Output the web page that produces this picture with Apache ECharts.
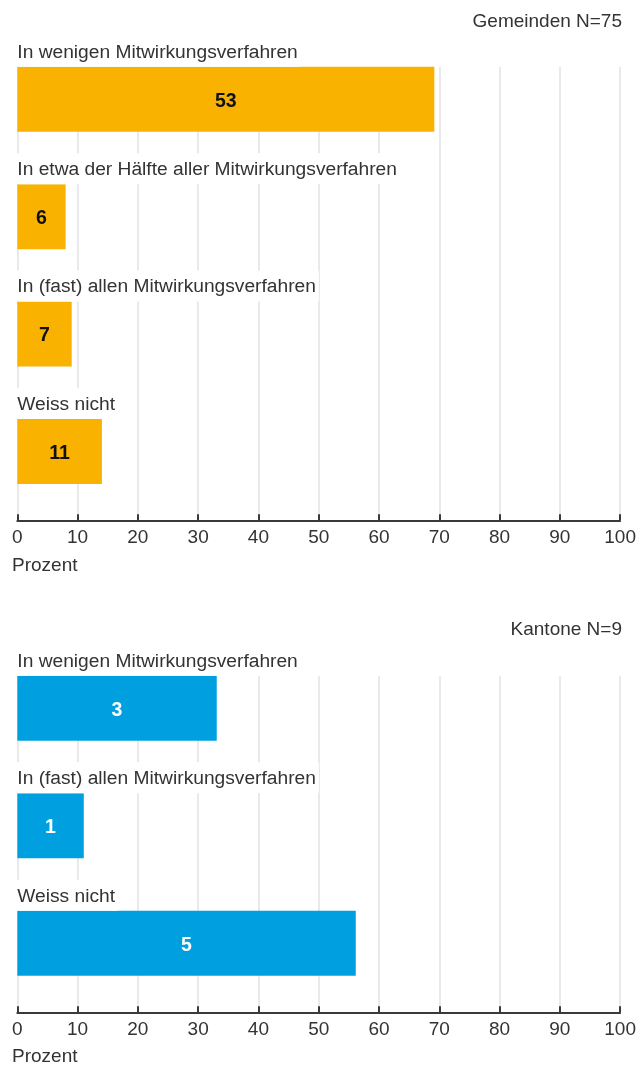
<!DOCTYPE html>
<html>
<head>
<meta charset="utf-8">
<script src="https://cdn.jsdelivr.net/npm/echarts@6/dist/echarts.min.js"></script>
<style>
  html, body { margin: 0; padding: 0; background: #ffffff; }
  #chart { width: 639px; height: 1067px; }
</style>
</head>
<body>
<div id="chart"></div>
<script>
// ---- Data ----
const titleGemeinden = 'Gemeinden N=75';
const categoriesGemeinden = [
  'In wenigen Mitwirkungsverfahren',
  'In etwa der Hälfte aller Mitwirkungsverfahren',
  'In (fast) allen Mitwirkungsverfahren',
  'Weiss nicht'
];
const percentGemeinden = [69, 8, 9, 14];
const countsGemeinden = [53, 6, 7, 11];

const titleKantone = 'Kantone N=9';
const categoriesKantone = [
  'In wenigen Mitwirkungsverfahren',
  'In (fast) allen Mitwirkungsverfahren',
  'Weiss nicht'
];
const percentKantone = [33, 11, 56];
const countsKantone = [3, 1, 5];

const axisName = 'Prozent';
const axisMin = 0, axisMax = 100, axisStep = 10;

// ---- Style ----
const FONT = '"Liberation Sans", Arial, sans-serif';
const TEXT = '#333333';
const YELLOW = '#F9B200';
const BLUE = '#00A0E0';

const chart = echarts.init(document.getElementById('chart'), null, { renderer: 'canvas' });

function gridAxis(gridIndex) {
  return {
    type: 'value', gridIndex, min: axisMin, max: axisMax, interval: axisStep,
    axisLine: { show: true, lineStyle: { color: '#3a3a3a', width: 2 } },
    axisTick: { show: true, inside: true, length: 6, lineStyle: { color: '#3a3a3a', width: 2 } },
    axisLabel: { show: true, margin: 8, fontSize: 19, fontFamily: FONT, color: TEXT },
    splitLine: { show: true, lineStyle: { color: '#e9e9e9', width: 2 } }
  };
}
function hiddenValueAxis(gridIndex) {
  return {
    type: 'value', gridIndex, min: axisMin, max: axisMax, interval: axisStep,
    show: false, splitLine: { show: false }
  };
}
function hiddenCatAxis(gridIndex, cats) {
  return { type: 'category', gridIndex, data: cats, inverse: true, show: false };
}
function emptyCatAxis(gridIndex) {
  return { type: 'category', gridIndex, data: [''], show: false };
}

function valueSeries(xi, yi, data, counts, color, labelColor) {
  return {
    type: 'bar', xAxisIndex: xi, yAxisIndex: yi, data, barWidth: 65,
    itemStyle: { color }, silent: true,
    label: {
      show: true, position: 'inside', offset: [0, 2],
      formatter: p => String(counts[p.dataIndex]),
      fontSize: 19.5, fontWeight: 'bold', fontFamily: FONT, color: labelColor
    },
    z: 3
  };
}
function catLabelSeries(xi, yi, data, cats) {
  return {
    type: 'bar', xAxisIndex: xi, yAxisIndex: yi, data, barWidth: 65, barGap: '-100%',
    itemStyle: { color: 'rgba(0,0,0,0)' }, silent: true,
    label: {
      show: true, position: [-2, 0], align: 'left', verticalAlign: 'bottom',
      formatter: p => cats[p.dataIndex],
      fontSize: 19.2, fontFamily: FONT, color: TEXT,
      lineHeight: 23, backgroundColor: '#ffffff', padding: [5, 3, 3, 2]
    },
    z: 4
  };
}

const titleStyle = { fontSize: 19, fontWeight: 'normal', fontFamily: FONT, color: TEXT, lineHeight: 23 };

chart.setOption({
  animation: false,
  backgroundColor: '#ffffff',
  title: [
    { text: titleGemeinden, right: 17, top: 10, padding: 0, textStyle: titleStyle },
    { text: axisName, left: 12, top: 554, padding: 0, textStyle: titleStyle },
    { text: titleKantone, right: 17, top: 618.5, padding: 0, textStyle: titleStyle },
    { text: axisName, left: 12, top: 1045.5, padding: 0, textStyle: titleStyle }
  ],
  grid: [
    { left: 17.3, right: 17.3, top: 66.7, height: 453.6 },   // gridlines/axis top
    { left: 17.3, right: 17.3, top: 40.5, height: 469.7 },   // bars top
    { left: 17.3, right: 17.3, top: 676.3, height: 336 },    // gridlines/axis bottom
    { left: 17.3, right: 17.3, top: 649.6, height: 352.5 }   // bars bottom
  ],
  xAxis: [gridAxis(0), hiddenValueAxis(1), gridAxis(2), hiddenValueAxis(3)],
  yAxis: [
    emptyCatAxis(0),
    hiddenCatAxis(1, categoriesGemeinden),
    emptyCatAxis(2),
    hiddenCatAxis(3, categoriesKantone)
  ],
  series: [
    valueSeries(1, 1, percentGemeinden, countsGemeinden, YELLOW, '#111111'),
    catLabelSeries(1, 1, percentGemeinden, categoriesGemeinden),
    valueSeries(3, 3, percentKantone, countsKantone, BLUE, '#ffffff'),
    catLabelSeries(3, 3, percentKantone, categoriesKantone)
  ]
});
</script>
</body>
</html>
